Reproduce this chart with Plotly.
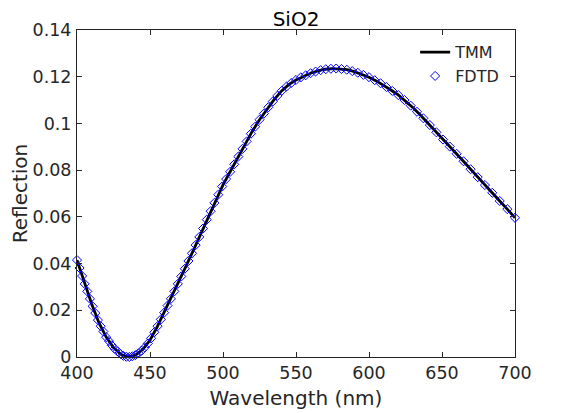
import plotly.graph_objects as go

# TMM curve
tmm_wavelength = [400, 405, 410, 415, 420, 425, 430, 435, 440, 445, 450, 455, 460, 465, 470,
                  475, 480, 485, 490, 495, 500, 505, 510, 515, 520, 525, 530, 535, 540, 545,
                  550, 555, 560, 565, 570, 575, 580, 585, 590, 595, 600, 605, 610, 615, 620,
                  625, 630, 635, 640, 645, 650, 655, 660, 665, 670, 675, 680, 685, 690, 695, 700]
tmm_reflection = [0.0415, 0.0318, 0.0228, 0.0147, 0.0085, 0.0040, 0.0012, 0.0000, 0.0008, 0.0032,
                  0.0072, 0.0130, 0.0194, 0.0258, 0.0326, 0.0393, 0.0461, 0.0531, 0.0604, 0.0672,
                  0.0737, 0.0794, 0.0852, 0.0910, 0.0966, 0.1016, 0.1060, 0.1102, 0.1138, 0.1166,
                  0.1186, 0.1202, 0.1215, 0.1225, 0.1232, 0.1235, 0.1234, 0.1230, 0.1222, 0.1211,
                  0.1198, 0.1182, 0.1164, 0.1143, 0.1122, 0.1097, 0.1068, 0.1037, 0.1004, 0.0970,
                  0.0936, 0.0903, 0.0870, 0.0836, 0.0801, 0.0766, 0.0732, 0.0699, 0.0665, 0.0631, 0.0596]

# FDTD samples
fdtd_wavelength = [400.00, 401.74, 403.49, 405.26, 407.05, 408.85, 410.67, 412.50, 414.35, 416.22,
                   418.10, 420.00, 421.92, 423.85, 425.81, 427.78, 429.76, 431.77, 433.80, 435.85,
                   437.91, 440.00, 442.11, 444.23, 446.38, 448.54, 450.73, 452.94, 455.17, 457.43,
                   459.70, 462.00, 464.32, 466.67, 469.04, 471.43, 473.85, 476.29, 478.76, 481.25,
                   483.77, 486.32, 488.89, 491.49, 494.12, 496.77, 499.46, 502.17, 504.92, 507.69,
                   510.50, 513.33, 516.20, 519.10, 522.03, 525.00, 528.00, 531.03, 534.10, 537.21,
                   540.35, 543.53, 546.75, 550.00, 553.29, 556.63, 560.00, 563.41, 566.87, 570.37,
                   573.91, 577.50, 581.13, 584.81, 588.54, 592.31, 596.13, 600.00, 603.92, 607.89,
                   611.92, 616.00, 620.13, 624.32, 628.57, 632.88, 637.24, 641.67, 646.15, 650.70,
                   655.32, 660.00, 664.75, 669.57, 674.45, 679.41, 684.44, 689.55, 694.74, 700.00]
fdtd_reflection = [0.0415, 0.0381, 0.0347, 0.0313, 0.0281, 0.0249, 0.0217, 0.0188, 0.0158, 0.0132,
                   0.0109, 0.0085, 0.0068, 0.0050, 0.0035, 0.0024, 0.0013, 0.0005, 0.0001, 0.0000,
                   0.0003, 0.0008, 0.0016, 0.0027, 0.0041, 0.0058, 0.0080, 0.0106, 0.0132, 0.0161,
                   0.0190, 0.0220, 0.0249, 0.0281, 0.0313, 0.0345, 0.0378, 0.0411, 0.0444, 0.0479,
                   0.0514, 0.0550, 0.0588, 0.0624, 0.0660, 0.0695, 0.0730, 0.0762, 0.0793, 0.0825,
                   0.0858, 0.0891, 0.0923, 0.0956, 0.0986, 0.1016, 0.1042, 0.1069, 0.1094, 0.1118,
                   0.1140, 0.1158, 0.1173, 0.1186, 0.1197, 0.1206, 0.1215, 0.1222, 0.1228, 0.1232,
                   0.1234, 0.1235, 0.1233, 0.1230, 0.1224, 0.1217, 0.1208, 0.1198, 0.1185, 0.1172,
                   0.1156, 0.1139, 0.1121, 0.1100, 0.1076, 0.1050, 0.1022, 0.0993, 0.0962, 0.0931,
                   0.0901, 0.0870, 0.0838, 0.0804, 0.0770, 0.0736, 0.0703, 0.0668, 0.0633, 0.0596]

x_ticks = [400, 450, 500, 550, 600, 650, 700]
y_ticks = [0, 0.02, 0.04, 0.06, 0.08, 0.1, 0.12, 0.14]
y_tick_labels = ["0", "0.02", "0.04", "0.06", "0.08", "0.1", "0.12", "0.14"]

FONT = "DejaVu Sans"
INK = "#262626"

fig = go.Figure()
fig.add_trace(go.Scatter(
    x=tmm_wavelength, y=tmm_reflection, mode="lines", name="TMM",
    line=dict(color="black", width=2.8),
))
fig.add_trace(go.Scatter(
    x=fdtd_wavelength, y=fdtd_reflection, mode="markers", name="FDTD",
    marker=dict(symbol="diamond-open", size=7, color="#0000ff", line=dict(width=1, color="#0000ff")),
    cliponaxis=False,
))

axis_common = dict(
    showline=True, linecolor=INK, linewidth=1, mirror="ticks",
    ticks="inside", ticklen=5, tickwidth=1, tickcolor=INK,
    showgrid=False, zeroline=False, automargin=False,
    tickfont=dict(family=FONT, size=17.5, color=INK),
)

# the page body adds an 8px offset, so the figure is sized to fit the 570x413 window
fig.update_layout(
    width=562, height=405,
    margin=dict(l=69, r=55, t=22, b=56),
    paper_bgcolor="white", plot_bgcolor="white",
    title=dict(text="SiO2", x=0.5125, xanchor="center", y=0.972, yanchor="middle",
               font=dict(family=FONT, size=20, color="black")),
    xaxis=dict(range=[400, 700], tickvals=x_ticks, ticklabelstandoff=0,
               title=dict(text="Wavelength (nm)", font=dict(family=FONT, size=20, color=INK), standoff=8),
               **axis_common),
    yaxis=dict(range=[0, 0.14], tickvals=y_ticks, ticktext=y_tick_labels, ticklabelstandoff=1,
               title=dict(text="Reflection", font=dict(family=FONT, size=20, color=INK), standoff=8),
               **axis_common),
    legend=dict(x=0.772, xanchor="left", y=0.984, yanchor="top",
                bgcolor="rgba(0,0,0,0)", borderwidth=0, tracegroupgap=0,
                font=dict(family=FONT, size=16, color=INK), itemwidth=30),
    showlegend=True,
)

fig.write_html("out.html")
